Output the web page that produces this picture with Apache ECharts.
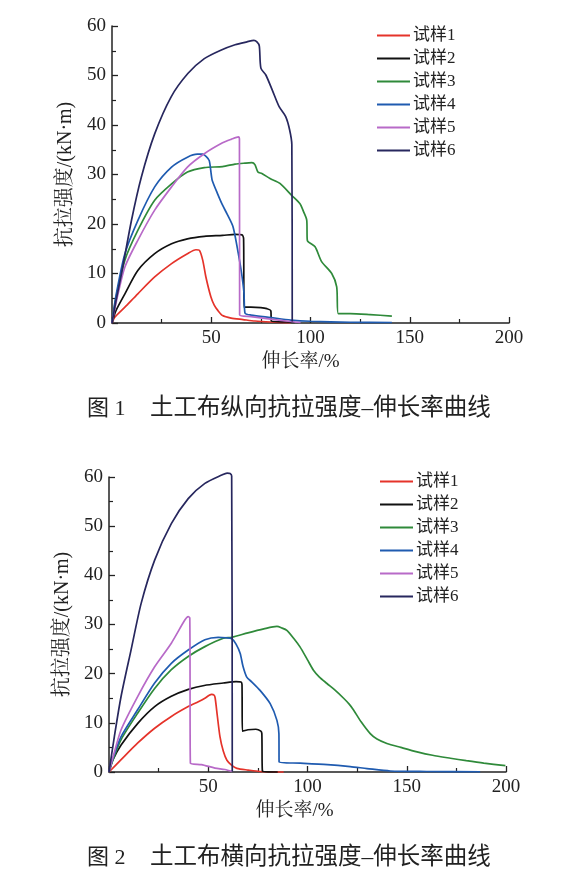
<!DOCTYPE html>
<html>
<head>
<meta charset="utf-8">
<script src="https://cdn.jsdelivr.net/npm/echarts@6/dist/echarts.min.js"></script>
<style>
  html, body { margin: 0; padding: 0; background: #fff; }
  #main { width: 581px; height: 881px; }
</style>
</head>
<body>
<div id="main"></div>
<script>
// 样品名称
var names = ['试样1', '试样2', '试样3', '试样4', '试样5', '试样6'];
var colors = ['#e5332a', '#111111', '#2f8a3a', '#1f5bb0', '#b86ac8', '#27275e'];
var xTicks = [0, 50, 100, 150, 200];
var yTicks = [0, 10, 20, 30, 40, 50, 60];

// 图1 纵向 [伸长率, 强度]
var fig1_s1 = [[0,0],[1.5,1.2],[6.5,3.2],[13,5.9],[21.5,9.3],[30,12],[38,14],[42.3,14.8],[44,14.7],[45.7,12.7],[47.3,9.3],[49.8,5.3],[51.5,3.6],[53.2,2.6],[55.7,1.5],[60,1],[66,0.7],[72,0.4],[80,0.2],[90,0.05]];
var fig1_s2 = [[0,0],[2,2.5],[6.5,5.9],[13,10.6],[21.5,14],[30,16],[38,17],[46.5,17.5],[55.7,17.7],[62,17.9],[65.5,17.8],[66.3,17],[66.5,3.2],[70,3.2],[75,3.1],[78,2.9],[80,2.5],[80.3,0.4],[88,0.2],[92,0.1]];
var fig1_s3 = [[0,0],[2,5],[6.5,12.7],[13,18.7],[21.5,24.8],[30,28.1],[38,30.5],[46.5,31.4],[55.7,31.6],[62,32.1],[67,32.3],[70.5,32.4],[72,32],[73.5,30.5],[75.5,30.2],[79.6,29.2],[84.6,28.2],[90.5,25.8],[94.7,24.1],[96.5,22.5],[98.1,20.8],[98.4,16.7],[102.3,15.4],[105.6,12.4],[110.7,10],[113.2,7.3],[114,1.9],[120,1.9],[130,1.7],[141,1.4]];
var fig1_s4 = [[0,0],[2,5.5],[6.5,14],[13,20.7],[21.5,27.5],[30,31.5],[38,33.5],[43,34.1],[45.7,34.1],[47.5,33.6],[49,32.8],[50,30],[50.5,28.8],[53.2,26.1],[55.7,23.8],[58,22],[61,19.4],[63.6,14.1],[65.3,10],[66.5,6],[67,2],[70,1.6],[80,1.1],[90,0.6],[100,0.35],[120,0.15],[141,0.1]];
var fig1_s5 = [[0,0],[2,4],[6.5,11.3],[13,16.7],[21.5,22.8],[30,27.5],[38,31.5],[46.5,34.2],[55.7,36.4],[60,37.1],[63.8,37.6],[64.2,37.2],[64.3,1.6],[70,1.3],[80,0.8],[90,0.3],[95,0.1]];
var fig1_s6 = [[0,0],[2,4.5],[4.8,10],[9.8,20.7],[14.8,29.5],[21.5,38.2],[29.8,45.7],[38.2,50.4],[46.5,53.4],[54.8,55.1],[62,56.2],[68,56.8],[71.5,57.1],[73,56.8],[74.2,56],[75,51.5],[77.5,50.1],[80.8,47],[84.2,43.7],[87.5,41.7],[89.5,39],[90.6,36],[90.8,0.3]];

// 图2 横向
var fig2_s1 = [[0,0],[6.1,2.5],[14.5,5.9],[23,8.9],[31.4,11.3],[39.9,13.3],[45,14.3],[48.3,15],[50.5,15.6],[51.7,15.8],[53,15.6],[53.5,15],[54.2,12.7],[55.9,7.2],[57.6,4.2],[59.4,2.4],[62,1.3],[64.4,0.75],[70,0.4],[76,0.1],[88,0]];
var fig2_s2 = [[0,0],[2,2.5],[6.1,5.5],[14.5,9.9],[23,13.3],[31.4,15.4],[40,16.8],[48,17.6],[57.6,18.1],[64,18.4],[66.5,18.3],[67,17.8],[67.2,8.3],[70,8.6],[74,8.7],[76.5,8.3],[77,7.8],[77.3,0.2],[85,0]];
var fig2_s3 = [[0,0],[2,2.5],[6.1,6.6],[14.5,12],[23,17],[31.4,20.8],[39.9,23.5],[48.3,25.5],[57.6,27.2],[61.9,27.4],[70,28.3],[78,29.1],[84.6,29.6],[87,29.3],[89.6,28.8],[93,27.2],[96.3,25.4],[100,22.8],[103,20.7],[106,19.3],[109.8,18],[114,16.6],[118.2,15],[121,13.8],[123.2,12.6],[127,10.2],[131.6,7.8],[135,6.7],[140,5.8],[147,5],[155.2,4.1],[163,3.4],[172,2.8],[180,2.3],[188.8,1.8],[199.7,1.3]];
var fig2_s4 = [[0,0],[2,2.8],[6.1,7.2],[14.5,12.7],[23,18.1],[31.4,22.1],[39.9,24.8],[48.3,26.9],[55,27.4],[59,27.3],[61.9,27.1],[64,26],[66.1,24.1],[67.5,21.5],[69.4,19.3],[72,18.3],[76.1,16.6],[81.2,13.9],[84.6,10.5],[85.6,7.8],[85.7,2],[96.3,1.8],[110,1.5],[121.5,1.1],[130,0.7],[141.7,0.2],[160,0.1],[187,0.05]];
var fig2_s5 = [[0,0],[2,3],[6.1,8.6],[14.5,15.4],[23,21.4],[31.4,26.2],[38.2,30.9],[39.9,31.6],[40.7,31.3],[41,1.8],[46.6,1.5],[53.4,0.8],[58.4,0.5],[62,0.1]];
var fig2_s6 = [[0,0],[2.7,7.2],[6.1,15.4],[11.1,24.8],[16.2,34.3],[23,43.1],[31.4,50.5],[39.9,55.6],[48.3,58.7],[56.8,60.4],[59.5,60.8],[61,60.7],[61.8,60.2],[62.1,0.1]];

var fig1 = [fig1_s1, fig1_s2, fig1_s3, fig1_s4, fig1_s5, fig1_s6];
var fig2 = [fig2_s1, fig2_s2, fig2_s3, fig2_s4, fig2_s5, fig2_s6];

var serif = "'Liberation Serif', 'Times New Roman', 'Noto Serif CJK SC', 'Noto Sans CJK SC', serif";
var cjk = "'Liberation Serif', 'Noto Sans CJK SC', sans-serif";

function xAxisOf(idx, nameShift) {
    return {
        gridIndex: idx, type: 'value', min: xTicks[0], max: xTicks[xTicks.length - 1], interval: 50,
        name: '伸长率/%', nameLocation: 'middle', nameGap: 30,
        nameTextStyle: { fontFamily: serif, fontSize: 19, color: '#222', padding: [0, nameShift, 0, 0] },
        axisLine: { lineStyle: { color: '#222', width: 1.5 } },
        axisTick: { inside: true, length: 6, lineStyle: { color: '#222', width: 1.3 } },
        minorTick: { show: true, splitNumber: 2, length: 4, lineStyle: { color: '#222', width: 1.2 } },
        splitLine: { show: false },
        axisLabel: {
            fontFamily: serif, fontSize: 19, color: '#222', margin: 6,
            formatter: function (v) { return v === 0 ? '' : v; }
        }
    };
}

function yAxisOf(idx) {
    return {
        gridIndex: idx, type: 'value', min: yTicks[0], max: yTicks[yTicks.length - 1], interval: 10,
        name: '抗拉强度/(kN·m)', nameLocation: 'middle', nameGap: 33, nameRotate: 90,
        nameTextStyle: { fontFamily: serif, fontSize: 20, color: '#222' },
        axisLine: { show: true, lineStyle: { color: '#222', width: 1.5 } },
        axisTick: { show: true, inside: true, length: 6, lineStyle: { color: '#222', width: 1.3 } },
        minorTick: { show: true, splitNumber: 2, length: 4, lineStyle: { color: '#222', width: 1.2 } },
        splitLine: { show: false },
        axisLabel: { fontFamily: serif, fontSize: 19, color: '#222', margin: 6 }
    };
}

function legendOf(left, top) {
    return {
        orient: 'vertical', left: left, top: top, padding: 0,
        icon: 'rect', itemWidth: 33, itemHeight: 1.8, itemGap: 6,
        data: names,
        textStyle: { fontFamily: cjk, fontSize: 17, color: '#222', padding: [0, 0, 0, -2] }
    };
}

var series = [];
[fig1, fig2].forEach(function (fig, g) {
    for (var i = 0; i < fig.length; i++) {
        series.push({
            name: names[i], type: 'line',
            xAxisIndex: g, yAxisIndex: g,
            data: fig[i],
            symbol: 'none', smooth: 0.25, clip: false,
            lineStyle: { color: colors[i], width: 1.7 },
            itemStyle: { color: colors[i] }
        });
    }
});

var chart = echarts.init(document.getElementById('main'));
chart.setOption({
    animation: false,
    backgroundColor: '#fff',
    grid: [
        { left: 112, top: 26, width: 397, height: 297 },
        { left: 109, top: 477, width: 397, height: 295 }
    ],
    xAxis: [xAxisOf(0, 20), xAxisOf(1, 26)],
    yAxis: [yAxisOf(0), yAxisOf(1)],
    legend: [legendOf(377, 27), legendOf(380, 473)],
    graphic: [
        { type: 'text', left: 87, top: 398, style: { text: '图 1', font: '22px ' + cjk, fill: '#222' } },
        { type: 'text', left: 150, top: 397, style: { text: '土工布纵向抗拉强度–伸长率曲线', font: '23.5px ' + cjk, fill: '#222' } },
        { type: 'text', left: 87, top: 847, style: { text: '图 2', font: '22px ' + cjk, fill: '#222' } },
        { type: 'text', left: 150, top: 846, style: { text: '土工布横向抗拉强度–伸长率曲线', font: '23.5px ' + cjk, fill: '#222' } }
    ],
    series: series
});
</script>
</body>
</html>
